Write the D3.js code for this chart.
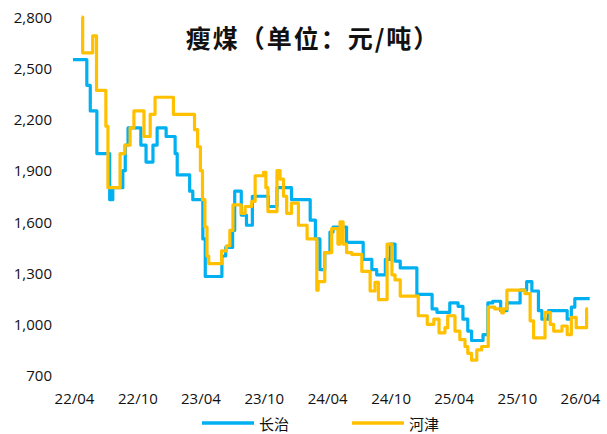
<!DOCTYPE html>
<html><head><meta charset="utf-8">
<script src="https://cdn.jsdelivr.net/npm/d3@7/dist/d3.min.js"></script>
<style>body{margin:0;background:#fff;}svg{display:block;}</style>
</head><body>
<svg id="chart" width="607" height="434"></svg>
<script>
const chartTitle = "瘦煤（单位：元/吨）";
const seriesNames = ["长治", "河津"];
const seriesColors = ["#00B0F0", "#FFC000"];

const changzhiDates = ["2022-03-29","2022-05-08","2022-05-18","2022-06-06","2022-07-13","2022-07-22","2022-08-20","2022-08-27","2022-09-04","2022-10-11","2022-10-26","2022-11-15","2022-11-27","2022-12-23","2023-01-18","2023-01-24","2023-03-01","2023-03-10","2023-04-08","2023-04-15","2023-06-02","2023-06-13","2023-07-03","2023-07-09","2023-07-28","2023-08-12","2023-08-29","2023-10-14","2023-11-08","2023-12-20","2024-02-12","2024-02-27","2024-03-11","2024-03-25","2024-04-09","2024-04-18","2024-05-27","2024-07-14","2024-08-08","2024-08-22","2024-09-16","2024-09-30","2024-10-14","2024-10-29","2024-12-16","2025-01-29","2025-02-12","2025-03-21","2025-04-14","2025-04-28","2025-05-12","2025-05-23","2025-06-25","2025-07-09","2025-07-23","2025-08-15","2025-09-02","2025-10-10","2025-10-29","2025-11-13","2025-12-02","2025-12-12","2025-12-31","2026-02-23","2026-03-07","2026-03-17","2026-04-29"];
const changzhiValues = [2550,2400,2250,2000,1730,1800,1900,2050,2150,2050,1950,2050,2150,2100,2000,1875,1780,1730,1500,1280,1400,1450,1550,1780,1640,1580,1750,1690,1800,1730,1610,1500,1320,1420,1540,1570,1480,1380,1320,1290,1380,1470,1370,1330,1175,1090,1070,1125,1105,1030,960,905,940,1125,1135,1080,1125,1200,1250,1195,1080,1030,1080,1030,1100,1150,1150];

const hejinDates = ["2022-04-23","2022-04-26","2022-05-25","2022-06-05","2022-07-02","2022-07-08","2022-08-12","2022-08-26","2022-09-10","2022-09-21","2022-10-20","2022-11-07","2022-11-21","2023-01-13","2023-03-15","2023-03-24","2023-04-01","2023-04-07","2023-04-14","2023-04-20","2023-04-25","2023-06-01","2023-06-15","2023-06-25","2023-07-04","2023-07-28","2023-08-08","2023-08-27","2023-09-06","2023-09-30","2023-10-07","2023-10-13","2023-11-08","2023-11-17","2023-11-27","2023-12-06","2023-12-20","2024-01-09","2024-02-03","2024-03-02","2024-03-06","2024-03-25","2024-04-14","2024-05-02","2024-05-08","2024-05-17","2024-05-27","2024-06-11","2024-07-10","2024-08-03","2024-08-17","2024-08-27","2024-09-21","2024-10-05","2024-10-14","2024-10-29","2024-12-20","2025-01-15","2025-02-03","2025-02-18","2025-03-07","2025-03-15","2025-04-05","2025-04-19","2025-05-04","2025-05-12","2025-05-23","2025-06-07","2025-06-21","2025-07-10","2025-07-29","2025-08-18","2025-08-23","2025-09-02","2025-10-24","2025-11-08","2025-11-18","2025-12-21","2026-01-05","2026-01-15","2026-02-08","2026-02-23","2026-03-07","2026-03-21","2026-04-20","2026-04-24"];
const hejinValues = [2800,2590,2690,2370,2160,1800,2000,2050,2150,2250,2100,2230,2330,2230,2140,2040,1900,1730,1570,1400,1355,1430,1460,1550,1700,1650,1690,1720,1870,1890,1800,1660,1900,1850,1750,1650,1710,1580,1500,1200,1250,1420,1560,1470,1600,1470,1420,1410,1310,1195,1245,1145,1470,1290,1260,1165,1050,1000,1030,950,980,1050,960,910,870,830,790,850,870,1100,1090,1067,1090,1200,1180,1020,920,1070,1000,960,990,940,1040,980,1090,1090];

const xTickDates = ["2022-04-01","2022-10-01","2023-04-01","2023-10-01","2024-04-01","2024-10-01","2025-04-01","2025-10-01","2026-04-01"];
const xTickLabels = ["22/04","22/10","23/04","23/10","24/04","24/10","25/04","25/10","26/04"];
const yTickValues = [700,1000,1300,1600,1900,2200,2500,2800];

const parse = d3.timeParse("%Y-%m-%d");
const svg = d3.select("#chart");
const fontUI = "'Open Sans','Noto Sans','Noto Sans CJK SC',sans-serif";

const x = d3.scaleTime()
  .domain([parse(xTickDates[0]), parse(xTickDates[xTickDates.length-1])])
  .range([74, 580]);
const y = d3.scaleLinear().domain([700, 2800]).range([375.5, 17]);

// y axis
const yAxis = d3.axisLeft(y).tickValues(yTickValues).tickFormat(d3.format(",")).tickSize(0).tickPadding(0);
const gy = svg.append("g").attr("transform","translate(52,0)").call(yAxis);
gy.select(".domain").remove();
gy.selectAll("text").attr("font-family", fontUI).attr("font-size", 15).attr("fill","#111").attr("dy","0.35em");

// x axis
const xAxis = d3.axisBottom(x).tickValues(xTickDates.map(parse))
  .tickFormat((d,i) => xTickLabels[i]).tickSize(0).tickPadding(0);
const gx = svg.append("g").attr("transform","translate(0,399)").call(xAxis);
gx.select(".domain").remove();
gx.selectAll("text").attr("font-family", fontUI).attr("font-size", 15).attr("fill","#111").attr("dy","0.35em");

// lines
const series = [
  {name: seriesNames[0], color: seriesColors[0], pts: changzhiDates.map((d,i)=>({d: parse(d), v: changzhiValues[i]}))},
  {name: seriesNames[1], color: seriesColors[1], pts: hejinDates.map((d,i)=>({d: parse(d), v: hejinValues[i]}))}
];
const line = d3.line().x(p => x(p.d)).y(p => y(p.v)).curve(d3.curveStepAfter);
svg.append("g").selectAll("path").data(series).join("path")
  .attr("d", s => line(s.pts))
  .attr("fill","none")
  .attr("stroke", s => s.color)
  .attr("stroke-width", 3.2)
  .attr("stroke-linejoin","round");

// title
svg.append("text").attr("x", 313).attr("y", 37).attr("text-anchor","middle")
  .attr("dominant-baseline","central")
  .attr("font-family","'Noto Sans CJK SC',sans-serif").attr("font-weight","bold")
  .attr("font-size", 25).attr("letter-spacing", 2).attr("fill","#111").text(chartTitle);

// legend
const legendX = [202, 352];
const legendY = 423;
const lg = svg.append("g");
series.forEach((s,i) => {
  lg.append("line").attr("x1", legendX[i]).attr("x2", legendX[i]+52)
    .attr("y1", legendY).attr("y2", legendY).attr("stroke", s.color).attr("stroke-width", 3.5);
  lg.append("text").attr("x", legendX[i]+57).attr("y", legendY).attr("dominant-baseline","central")
    .attr("font-family","'Noto Sans CJK SC',sans-serif").attr("font-size", 15).attr("fill","#111").text(s.name);
});
</script>
</body></html>
